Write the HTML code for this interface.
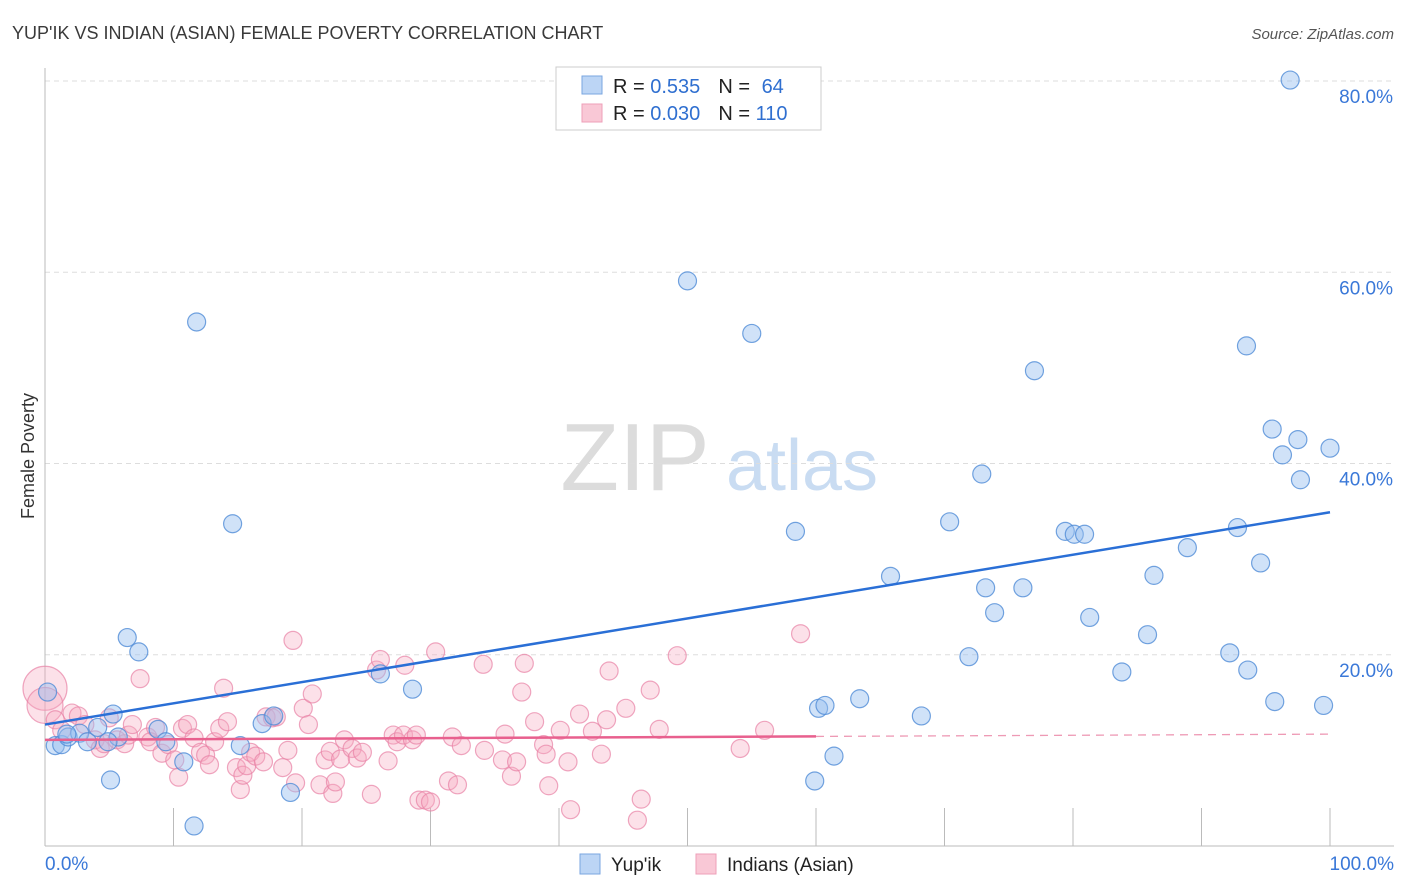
<!DOCTYPE html>
<html><head><meta charset="utf-8"><style>
body{margin:0;background:#fff;font-family:"Liberation Sans",sans-serif;}
#wrap{position:relative;width:1406px;height:892px;overflow:hidden;}
svg text{font-family:"Liberation Sans",sans-serif;}
</style></head><body>
<div id="wrap">
<svg id="chart" width="1406" height="892">
<text x="12" y="39" font-size="18" fill="#3a3a3a">YUP'IK VS INDIAN (ASIAN) FEMALE POVERTY CORRELATION CHART</text>
<text x="1394" y="39" font-size="15" fill="#555" font-style="italic" text-anchor="end">Source: ZipAtlas.com</text>
<text x="34" y="456" font-size="18" fill="#333" transform="rotate(-90 34 456)" text-anchor="middle">Female Poverty</text>
<g><text x="635" y="490" font-size="96" fill="#dcdcdc" font-family="Liberation Serif" text-anchor="middle">ZIP</text><text x="802" y="490" font-size="72" fill="#c9dcf2" text-anchor="middle">atlas</text></g>
<g id="grid"></g><g id="axes"></g><g id="pts"></g><g id="lines"></g>
<g>
<rect x="556" y="67" width="265" height="63" fill="#fff" stroke="#ccc"/>
<rect x="582" y="76" width="20" height="18" fill="#bcd5f5" stroke="#7aa6e0"/>
<rect x="582" y="104" width="20" height="18" fill="#f9c8d6" stroke="#ee9fb8"/>
<text x="613" y="93" font-size="20" fill="#222">R = <tspan fill="#2f6fd0">0.535</tspan><tspan dx="18">N = </tspan><tspan fill="#2f6fd0" dx="6">64</tspan></text>
<text x="613" y="120" font-size="20" fill="#222">R = <tspan fill="#2f6fd0">0.030</tspan><tspan dx="18">N = </tspan><tspan fill="#2f6fd0">110</tspan></text>
</g>
<g>
<rect x="580" y="854" width="20" height="20" fill="#bcd5f5" stroke="#7aa6e0"/>
<text x="611" y="871" font-size="19" fill="#222">Yup'ik</text>
<rect x="696" y="854" width="20" height="20" fill="#f9c8d6" stroke="#ee9fb8"/>
<text x="727" y="871" font-size="19" fill="#222">Indians (Asian)</text>
</g>
</svg>
</div>
<script>
const yTicks=[20,40,60,80];
const yTickLabels=["20.0%","40.0%","60.0%","80.0%"];
const xTickLabels=["0.0%","100.0%"];
const blueX=[0.2,0.8,1.3,1.8,2.7,3.3,4.1,5.1,5.3,5.7,6.4,7.3,8.8,9.4,10.8,11.6,11.8,14.6,15.2,16.9,17.8,19.1,26.1,28.6,50.0,55.0,58.4,59.9,60.2,60.7,61.4,63.4,65.8,68.2,70.4,71.9,72.9,73.2,73.9,76.1,77.0,79.4,80.1,80.9,81.3,83.8,85.8,86.3,88.9,92.2,92.8,93.5,93.6,94.6,95.5,95.7,96.3,96.9,97.5,97.7,99.5,100,1.7,4.9];
const blueY=[16.1,10.5,10.6,11.4,11.8,10.9,12.4,6.9,13.8,11.4,21.8,20.3,12.2,10.9,8.8,2.1,54.8,33.7,10.5,12.8,13.6,5.6,18.0,16.4,59.1,53.6,32.9,6.8,14.4,14.7,9.4,15.4,28.2,13.6,33.9,19.8,38.9,27.0,24.4,27.0,49.7,32.9,32.6,32.6,23.9,18.2,22.1,28.3,31.2,20.2,33.3,52.3,18.4,29.6,43.6,15.1,40.9,80.1,42.5,38.3,14.7,41.6,11.7,10.9];
const pinkX=[0,0,0.8,1.3,2.1,2.6,3.1,3.9,4.3,4.6,5.0,5.6,6.2,6.5,6.8,7.4,8.0,8.2,8.6,9.1,9.6,10.1,10.4,10.7,11.1,11.6,12.1,12.5,12.8,13.2,13.6,13.9,14.2,14.9,15.2,15.4,15.7,16.0,16.4,17.0,17.2,17.7,18.0,18.5,18.9,19.3,19.5,20.1,20.5,20.8,21.4,21.8,22.2,22.4,22.6,23.0,23.3,23.9,24.3,24.7,25.4,25.8,26.1,26.7,27.1,27.4,27.9,28.0,28.6,28.9,29.1,29.6,30.0,30.4,31.4,31.7,32.1,32.4,34.1,34.2,35.6,35.8,36.3,36.7,37.1,37.3,38.1,38.8,39.0,39.2,40.1,40.7,40.9,41.6,42.6,43.3,43.7,43.9,45.2,46.1,46.4,47.1,47.8,49.2,54.1,56.0,58.8];
const pinkY=[16.5,14.7,13.2,12.1,13.9,13.6,12.7,11.1,10.2,10.7,13.4,11.1,10.7,11.6,12.7,17.5,11.4,10.9,12.4,9.7,10.6,9.0,7.2,12.3,12.7,11.3,9.8,9.5,8.5,10.9,12.3,16.5,13.0,8.2,5.9,7.4,8.4,9.8,9.4,8.8,13.5,13.4,13.5,8.2,10.0,21.5,6.6,14.4,12.7,15.9,6.4,9.0,9.9,5.5,6.7,9.1,11.1,10.2,9.2,9.8,5.4,18.4,19.5,8.9,11.6,10.9,11.6,18.9,11.1,11.6,4.8,4.8,4.6,20.3,6.8,11.4,6.4,10.5,19.0,10.0,9.0,11.7,7.3,8.8,16.1,19.1,13.0,10.6,9.6,6.3,12.1,8.8,3.8,13.8,12.0,9.6,13.2,18.3,14.4,2.7,4.9,16.3,12.2,19.9,10.2,12.1,22.2];
const pinkR=[22,18];
const blueTrend=[12.7,34.9];
const pinkTrend=[11.1,11.7];
const pinkSolidEnd=60;
const NS="http://www.w3.org/2000/svg";
const X=v=>45+v*12.85, Y=v=>846-v*9.5625;
function mk(tag,attrs,parent){const e=document.createElementNS(NS,tag);for(const k in attrs)e.setAttribute(k,attrs[k]);parent.appendChild(e);return e;}
const grid=document.getElementById('grid'),axes=document.getElementById('axes'),pts=document.getElementById('pts'),lines=document.getElementById('lines');
yTicks.forEach((t,i)=>{
 const l=mk('line',{x1:45,x2:1394,y1:Y(t),y2:Y(t),stroke:'#ddd','stroke-dasharray':'5,4'},grid);
 
 
 const tx=mk('text',{x:1393,y:Y(t)+22,'font-size':19,fill:'#3a78d8','text-anchor':'end'},grid);
 tx.textContent=yTickLabels[i];
 
 
});
const ya=mk('line',{x1:45,x2:45,y1:68,y2:846,stroke:'#bbb'},axes);


const xa=mk('line',{x1:45,x2:1394,y1:846,y2:846,stroke:'#bbb'},axes);


for(let k=1;k<=10;k++){const t=mk('line',{x1:X(k*10),x2:X(k*10),y1:808,y2:846,stroke:'#bbb'},axes);
 
 }
[[0,'start',45],[100,'end',1394]].forEach((d,i)=>{const t=mk('text',{x:d[2],y:870,'font-size':19,fill:'#3a78d8','text-anchor':d[1]},axes);t.textContent=xTickLabels[i];
 
 });
pinkX.forEach((v,i)=>{const c=mk('circle',{cx:X(v),cy:Y(pinkY[i]),r:pinkR[i]||9,fill:'rgba(246,170,192,0.35)',stroke:'rgba(232,130,165,0.7)','stroke-width':1.2},pts);
 
 });
blueX.forEach((v,i)=>{const c=mk('circle',{cx:X(v),cy:Y(blueY[i]),r:9,fill:'rgba(150,190,240,0.45)',stroke:'rgba(80,140,215,0.8)','stroke-width':1.2},pts);
 
 });
const bl=mk('line',{x1:X(0),y1:Y(blueTrend[0]),x2:X(100),y2:Y(blueTrend[1]),stroke:'#2a6fd6','stroke-width':2.5},lines);


const pm=pinkTrend[0]+(pinkTrend[1]-pinkTrend[0])*pinkSolidEnd/100;
const pl=mk('line',{x1:X(0),y1:Y(pinkTrend[0]),x2:X(pinkSolidEnd),y2:Y(pm),stroke:'#e8608e','stroke-width':2.5},lines);


const pd=mk('line',{x1:X(pinkSolidEnd),y1:Y(pm),x2:X(100),y2:Y(pinkTrend[1]),stroke:'#ee9ab5','stroke-width':1.3,'stroke-dasharray':'8,6'},lines);


</script>
</body></html>
